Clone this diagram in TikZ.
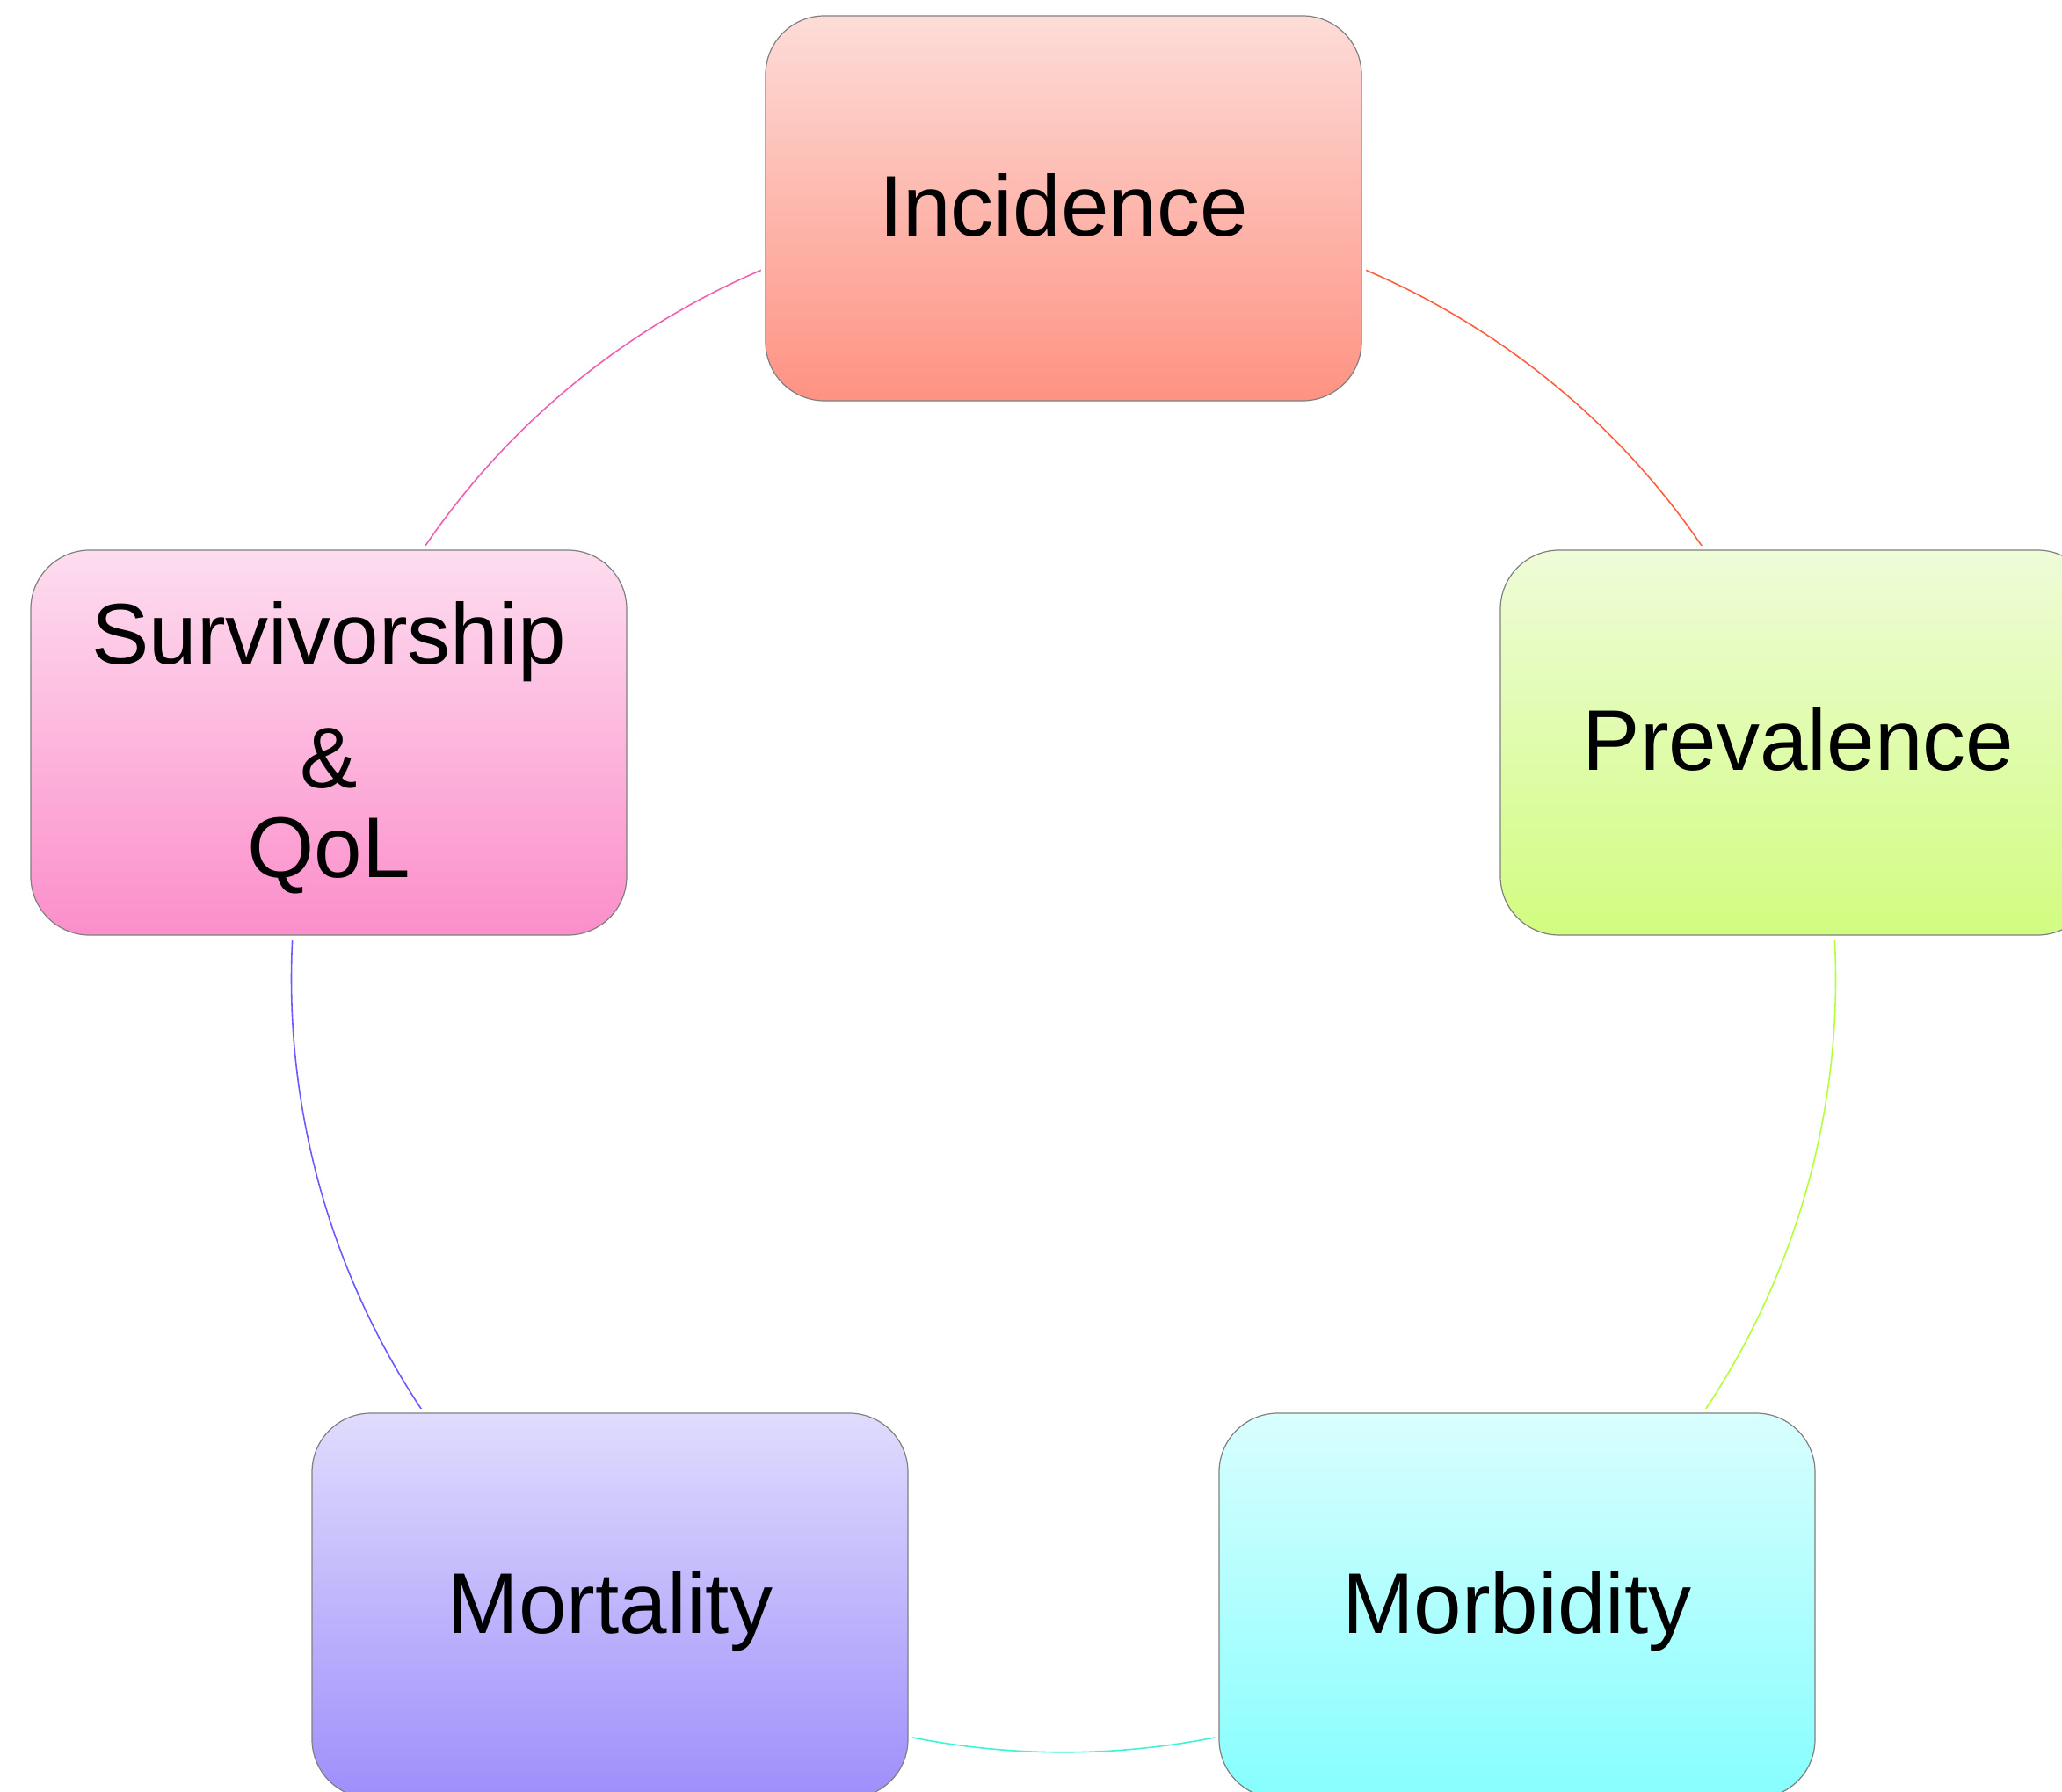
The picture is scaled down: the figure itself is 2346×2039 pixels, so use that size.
\documentclass[tikz,border=0pt]{standalone}
\usepackage{fontspec}
\setmainfont{Liberation Sans}
\usetikzlibrary{backgrounds}
\definecolor{boxline}{HTML}{808080}
\definecolor{incT}{HTML}{FDDCD8}\definecolor{incB}{HTML}{FE9282}
\definecolor{preT}{HTML}{EEFCD8}\definecolor{preB}{HTML}{D2FC80}
\definecolor{morT}{HTML}{D9FEFE}\definecolor{morB}{HTML}{86FEFE}
\definecolor{mtaT}{HTML}{DFDCFD}\definecolor{mtaB}{HTML}{9E8EFB}
\definecolor{surT}{HTML}{FDDDEF}\definecolor{surB}{HTML}{FC8ECA}
\definecolor{lnA}{HTML}{FF5F3F}
\definecolor{lnB}{HTML}{B4FF3C}
\definecolor{lnC}{HTML}{40F2D6}
\definecolor{lnD}{HTML}{6A5AFF}
\definecolor{lnE}{HTML}{F060B0}
\begin{document}
\begin{tikzpicture}[x=0.5pt,y=0.5pt,
  box/.style={rounded corners=33.5pt, minimum width=339pt, minimum height=219pt,
    inner sep=0pt, draw=boxline, line width=0.6pt,
    font=\fontsize{49}{51}\selectfont, text depth=4pt, align=center,
    preaction={draw=white, line width=5pt}},
  link/.style={line width=0.8pt, bend left=36, looseness=0.94}]
\path[use as bounding box, clip] (0,0) rectangle (2346,-2039);
\node[box, top color=incT, bottom color=incB] (inc) at (1210,-237) {Incidence};
\node[box, top color=preT, bottom color=preB] (prev) at (2046,-845) {Prevalence};
\node[box, top color=morT, bottom color=morB] (morb) at (1726,-1827) {Morbidity};
\node[box, top color=mtaT, bottom color=mtaB] (mort) at (694,-1827) {Mortality};
\node[box, top color=surT, bottom color=surB] (surv) at (374,-845) {Survivorship\\[19.5pt]\&\\QoL};
\begin{pgfonlayer}{background}
\fill[white] (0,0) rectangle (2346,-2039);
\draw[link, draw=lnA] (inc.center) to (prev.center);
\draw[link, draw=lnB] (prev.center) to (morb.center);
\draw[link, draw=lnC] (morb.center) to (mort.center);
\draw[link, draw=lnD] (mort.center) to (surv.center);
\draw[link, draw=lnE] (surv.center) to (inc.center);
\end{pgfonlayer}
\end{tikzpicture}
\end{document}
